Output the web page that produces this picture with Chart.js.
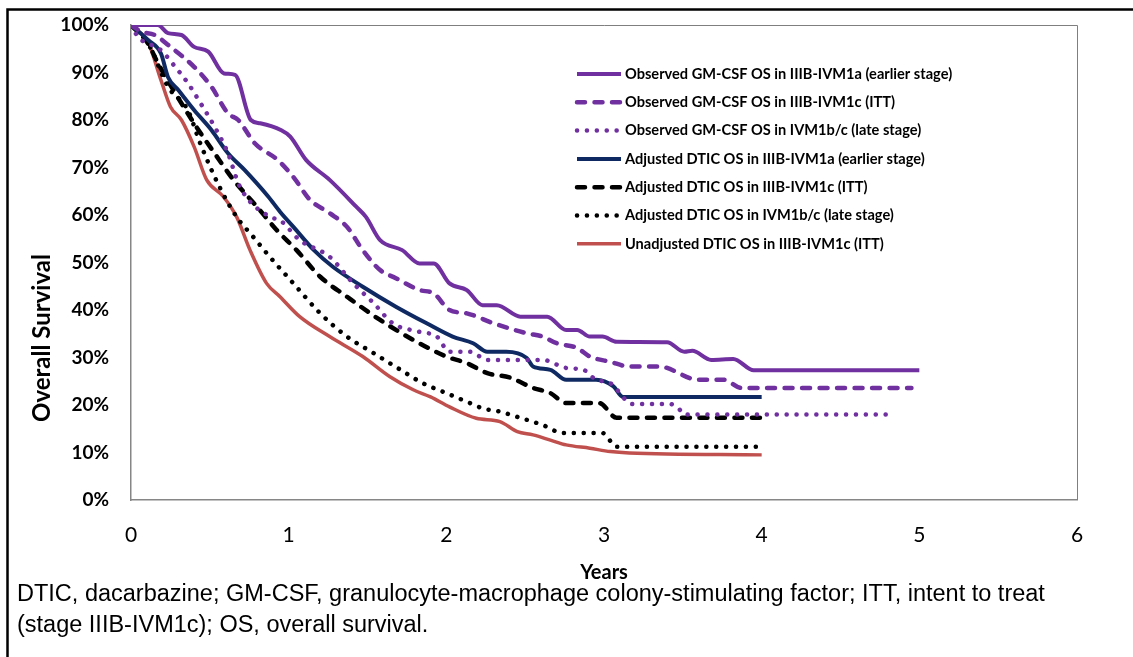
<!DOCTYPE html>
<html>
<head>
<meta charset="utf-8">
<script src="https://cdn.jsdelivr.net/npm/chart.js@4.4.0/dist/chart.umd.min.js"></script>
<style>
  html, body { margin: 0; padding: 0; background: #fff; }
  #wrap { width: 1133px; height: 657px; }
</style>
</head>
<body>
<div id="wrap"><canvas id="osChart" width="1133" height="657"></canvas></div>
<script>
// series names (legend order)
const seriesNames = [
    "Observed GM-CSF OS in IIIB-IVM1a (earlier stage)",
    "Observed GM-CSF OS in IIIB-IVM1c (ITT)",
    "Observed GM-CSF OS in IVM1b/c (late stage)",
    "Adjusted DTIC OS in IIIB-IVM1a (earlier stage)",
    "Adjusted DTIC OS in IIIB-IVM1c (ITT)",
    "Adjusted DTIC OS in IVM1b/c (late stage)",
    "Unadjusted DTIC OS in IIIB-IVM1c (ITT)"
];

// observed GM-CSF, earlier stage
const gmEarlyYears = [0, 0.17, 0.235, 0.32, 0.40, 0.49, 0.59, 0.66, 0.76, 0.82, 0.95, 1.01, 1.11, 1.26, 1.43, 1.49, 1.58, 1.72, 1.83, 1.92, 2.02, 2.13, 2.23, 2.32, 2.47, 2.64, 2.76, 2.83, 2.91, 2.99, 3.08, 3.40, 3.51, 3.56, 3.68, 3.82, 3.95, 5.0];
const gmEarlyOS    = [100, 100, 98.3, 97.9, 95.4, 94.4, 89.8, 89.5, 80, 79.3, 77.9, 76.5, 71.6, 67.4, 61.7, 59.6, 54.7, 52.6, 49.8, 49.8, 45.6, 44.2, 41, 41, 38.6, 38.6, 35.8, 35.8, 34.4, 34.4, 33.3, 33.2, 31.2, 31.4, 29.5, 29.7, 27.3, 27.3];

// observed GM-CSF, ITT
const gmIttYears = [0, 0.065, 0.15, 0.25, 0.40, 0.51, 0.615, 0.68, 0.785, 0.93, 1.03, 1.135, 1.26, 1.37, 1.47, 1.58, 1.68, 1.83, 1.92, 2.02, 2.13, 2.30, 2.51, 2.61, 2.70, 2.83, 2.91, 3.04, 3.16, 3.35, 3.60, 3.76, 3.87, 4.95];
const gmIttOS    = [100, 98.6, 97.9, 95.4, 91.2, 87, 81.4, 80, 75.1, 71.6, 68, 63.2, 60.4, 57.5, 52.6, 48.4, 46.7, 44.2, 43.5, 40, 39.3, 37.2, 35.1, 34.4, 33, 32, 30.2, 29.1, 28.1, 28.1, 25.3, 25.3, 23.6, 23.6];

// observed GM-CSF, late stage
const gmLateYears = [0, 0.045, 0.19, 0.28, 0.36, 0.44, 0.53, 0.615, 0.69, 0.88, 0.945, 1.07, 1.26, 1.41, 1.54, 1.66, 1.83, 1.94, 2.02, 2.15, 2.26, 2.45, 2.61, 2.76, 2.87, 2.95, 3.04, 3.14, 3.18, 3.42, 3.47, 3.51, 4.83];
const gmLateOS    = [100, 97.5, 94.7, 91.2, 87.8, 83.6, 78.6, 73, 66, 59.6, 58.9, 54.7, 51.2, 45.6, 41.4, 37.2, 35.4, 34.4, 31.2, 31.2, 29.5, 29.5, 29.5, 27.8, 27.4, 25.3, 24.6, 21, 20.2, 20.2, 19.4, 18, 18];

// adjusted DTIC, earlier stage
const dticEarlyYears = [0, 0.11, 0.19, 0.235, 0.30, 0.40, 0.51, 0.615, 0.72, 0.87, 0.945, 1.03, 1.16, 1.28, 1.47, 1.68, 1.875, 2.04, 2.17, 2.26, 2.38, 2.51, 2.55, 2.66, 2.76, 2.95, 3.06, 3.12, 4.0];
const dticEarlyOS    = [100, 96.8, 94, 89, 86.3, 82.1, 77.9, 73, 69.5, 63.9, 60.7, 57.5, 52.6, 49.1, 44.9, 40.7, 37.2, 34.4, 33, 31.2, 31.2, 29.9, 28.1, 27.4, 25.3, 25.3, 23.9, 21.7, 21.7];

// adjusted DTIC, ITT
const dticIttYears = [0, 0.11, 0.17, 0.28, 0.40, 0.53, 0.65, 0.80, 0.925, 1.05, 1.20, 1.37, 1.58, 1.79, 2.0, 2.13, 2.26, 2.40, 2.55, 2.66, 2.76, 2.97, 3.08, 4.0];
const dticIttOS    = [100, 96, 92, 85.7, 79.3, 73, 67.4, 61.7, 56.8, 52.6, 47, 42.8, 37.9, 33.7, 30.2, 28.8, 26.7, 25.8, 23.6, 22.5, 20.4, 20.4, 17.3, 17.3];

// adjusted DTIC, late stage
const dticLateYears = [0, 0.11, 0.235, 0.36, 0.44, 0.56, 0.67, 0.775, 0.88, 1.03, 1.20, 1.37, 1.54, 1.71, 1.85, 2.0, 2.15, 2.23, 2.34, 2.45, 2.61, 2.74, 2.99, 3.08, 3.97];
const dticLateOS    = [100, 96, 87, 82.1, 75, 66, 59.6, 55.4, 51.2, 45.6, 39.3, 34.4, 30.9, 27.4, 24.6, 22.5, 20.4, 19.3, 18.6, 17.5, 15.8, 14.1, 14.1, 11.2, 11.2];

// unadjusted DTIC, ITT
const rawIttYears = [0, 0.11, 0.19, 0.25, 0.32, 0.40, 0.48, 0.585, 0.67, 0.755, 0.86, 0.945, 1.07, 1.26, 1.47, 1.64, 1.79, 1.90, 2.02, 2.19, 2.34, 2.45, 2.55, 2.66, 2.76, 2.91, 3.04, 3.16, 4.0];
const rawIttOS    = [100, 96.2, 88.4, 82.8, 80, 74.4, 67.4, 63.9, 59.6, 52.6, 45.6, 42.8, 38.6, 34.4, 30.2, 26, 23.2, 21.7, 19.6, 17.2, 16.5, 14.4, 13.7, 12.6, 11.6, 10.9, 10.2, 9.9, 9.5];

const xTicks = [0, 1, 2, 3, 4, 5, 6];

const footnote = [
    "DTIC, dacarbazine; GM-CSF, granulocyte-macrophage colony-stimulating factor; ITT, intent to treat",
    "(stage IIIB-IVM1c); OS, overall survival."
];

const purple = "#7030A0", navy = "#0F2A62", red = "#C0504D";
const dashed = [8, 9.5], dotted = [0.1, 9.8];

function pts(xs, ys) {
    return xs.map((x, i) => ({ x: x, y: ys[i] }));
}

function series(i, xs, ys, color, width, dash) {
    return {
        label: seriesNames[i],
        data: pts(xs, ys),
        borderColor: color,
        backgroundColor: color,
        borderWidth: width,
        borderDash: dash || [],
        borderCapStyle: dash ? "round" : "butt",
        borderJoinStyle: "round",
        pointRadius: 0,
        fill: false,
        cubicInterpolationMode: "monotone"
    };
}

// legend, y title, frame and footnote
const extras = {
    id: "extras",
    beforeDatasetsDraw(chart) {
        const ctx = chart.ctx, a = chart.chartArea;
        ctx.save();
        ctx.strokeStyle = "#7f7f7f";
        ctx.lineWidth = 1;
        ctx.beginPath();
        ctx.moveTo(a.left, a.top + 0.5);
        ctx.lineTo(a.right + 0.5, a.top + 0.5);
        ctx.lineTo(a.right + 0.5, a.bottom);
        ctx.stroke();
        ctx.restore();
    },
    afterDraw(chart) {
        const ctx = chart.ctx;
        ctx.save();
        // outer frame
        ctx.strokeStyle = "#000";
        ctx.lineWidth = 2.5;
        ctx.beginPath();
        ctx.moveTo(7.5, 700);
        ctx.lineTo(7.5, 9.5);
        ctx.lineTo(1140, 9.5);
        ctx.stroke();

        // y title
        ctx.fillStyle = "#000";
        ctx.font = 'bold 24px Lato';
        ctx.textAlign = "center";
        ctx.textBaseline = "middle";
        ctx.translate(42, 338);
        ctx.rotate(-Math.PI / 2);
        ctx.fillText("Overall Survival", 0, 0);
        ctx.setTransform(1, 0, 0, 1, 0, 0);

        // legend
        chart.data.datasets.forEach((ds, i) => {
            const y = 74 + i * 28.3;
            ctx.strokeStyle = ds.borderColor;
            ctx.lineWidth = ds.borderWidth;
            ctx.lineCap = ds.borderCapStyle;
            ctx.setLineDash(ds.borderDash);
            ctx.beginPath();
            ctx.moveTo(577, y);
            ctx.lineTo(621, y);
            ctx.stroke();
            ctx.setLineDash([]);
            ctx.fillStyle = "#000";
            ctx.font = 'bold 14.6px Lato';
            ctx.textAlign = "left";
            ctx.fillText(ds.label, 625, y);
        });

        // footnote
        ctx.font = '23.5px "Liberation Sans"';
        ctx.fillStyle = "#000";
        footnote.forEach((line, i) => ctx.fillText(line, 17, 595 + i * 31));
        ctx.restore();
    }
};

new Chart(document.getElementById("osChart").getContext("2d"), {
    type: "line",
    data: {
        datasets: [
            series(0, gmEarlyYears, gmEarlyOS, purple, 4),
            series(1, gmIttYears, gmIttOS, purple, 4.5, dashed),
            series(2, gmLateYears, gmLateOS, purple, 4.5, dotted),
            series(3, dticEarlyYears, dticEarlyOS, navy, 4),
            series(4, dticIttYears, dticIttOS, "#000", 4.5, dashed),
            series(5, dticLateYears, dticLateOS, "#000", 4.5, dotted),
            series(6, rawIttYears, rawIttOS, red, 3.5)
        ]
    },
    options: {
        responsive: false,
        animation: false,
        layout: { padding: { left: 0, top: 25, right: 56, bottom: 67 } },
        plugins: {
            legend: { display: false },
            tooltip: { enabled: false }
        },
        scales: {
            x: {
                type: "linear",
                min: 0,
                max: 6,
                afterBuildTicks: s => { s.ticks = xTicks.map(v => ({ value: v })); },
                afterFit: s => { s.height = 90; s.paddingLeft = 0; s.paddingRight = 0; },
                grid: { display: false, drawTicks: false },
                border: { display: true, color: "#868686", width: 1.5 },
                ticks: { color: "#000", padding: 23, font: { family: "Lato", size: 21 } },
                title: {
                    display: true,
                    text: "Years",
                    color: "#000",
                    font: { family: "Lato", size: 20, weight: "bold" },
                    padding: { top: 0, bottom: 5 }
                }
            },
            y: {
                min: 0,
                max: 100,
                afterFit: s => { s.width = 131; s.paddingTop = 0; s.paddingBottom = 0; },
                grid: { display: false, drawTicks: false },
                border: { display: true, color: "#868686", width: 1.5 },
                ticks: {
                    stepSize: 10,
                    color: "#000",
                    padding: 22,
                    font: { family: "Lato", size: 19, weight: "bold" },
                    callback: v => v + "%"
                }
            }
        }
    },
    plugins: [extras]
});
</script>
</body>
</html>
